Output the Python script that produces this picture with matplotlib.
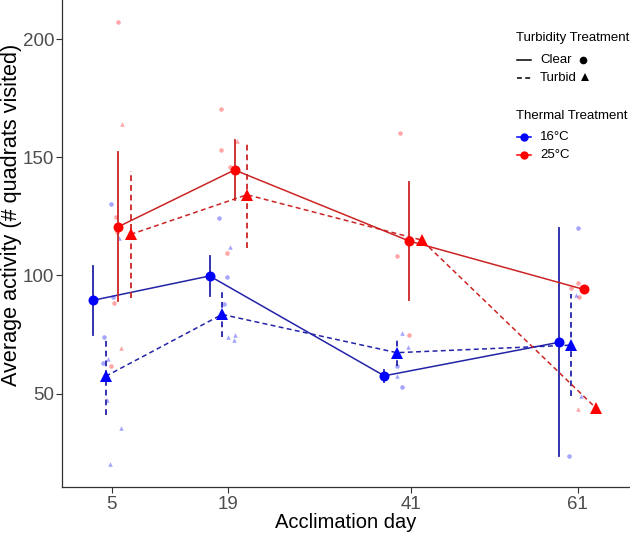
import matplotlib
matplotlib.use("Agg")
import matplotlib.pyplot as plt
from matplotlib.lines import Line2D
import numpy as np

plt.rcParams["font.family"] = ["Liberation Sans", "DejaVu Sans"]

# acclimation days (data) and tick labels
days = [5, 19, 40, 61]
tick_days = [5, 19, 41, 61]

# group means and error half-widths (nan = no bar)
mean_16_clear = [89.5, 99.8, 57.5, 71.7]
err_16_clear = [14.6, 8.5, 2.5, 48.3]
mean_16_turbid = [57.3, 83.5, 67.3, 70.5]
err_16_turbid = [16.2, 9.6, 5.6, 21.5]
mean_25_clear = [120.6, 144.7, 114.6, 94.1]
err_25_clear = [31.6, 12.7, 24.8, np.nan]
mean_25_turbid = [117.4, 134.2, 115.0, 43.7]
err_25_turbid = [27.0, 22.6, np.nan, np.nan]

# individual observations: day, horizontal jitter (days), value, temperature, turbidity
raw_day = [5] * 16 + [19] * 12 + [40] * 8 + [61] * 8
raw_jit = [0.76, 1.24, -0.16, 0.48, 0.56, 0.84, 0.16, 0.24, -0.92, 1.08, -1.12, -0.52, -0.12, -0.56, 1.12, -0.24,
           -0.91, 1.04, -0.83, 0.25, -1.15, 0.17, -0.11, -0.16, -0.52, -0.04, 0.85, 0.73,
           -0.35, -0.76, -0.11, 0.68, 0.56, -0.76, -0.71, -0.11,
           0.02, 0.06, -0.74, 0.22, -0.22, 0.46, 0.10, -1.02]
raw_val = [207.4, 164.2, 130.3, 124.9, 118.3, 115.9, 91.0, 88.2, 73.8, 69.3, 63.0, 64.5, 61.7, 47.2, 35.3, 20.0,
           170.7, 157.0, 153.0, 146.1, 124.4, 112.2, 109.4, 99.2, 88.0, 74.0, 75.0, 72.7,
           160.5, 108.3, 75.5, 74.8, 69.8, 61.6, 57.4, 52.6,
           120.3, 96.7, 94.6, 90.8, 91.7, 49.1, 43.4, 23.5]
raw_temp = ["25", "25", "16", "25", "25", "16", "16", "25", "16", "25", "16", "16", "25", "16", "16", "16",
            "25", "25", "25", "25", "16", "16", "25", "16", "16", "16", "16", "16",
            "25", "25", "16", "25", "16", "16", "16", "16",
            "16", "25", "25", "25", "16", "16", "25", "16"]
raw_turb = ["Clear", "Turbid", "Clear", "Clear", "Clear", "Turbid", "Clear", "Clear", "Clear", "Turbid", "Clear",
            "Turbid", "Clear", "Turbid", "Turbid", "Turbid",
            "Clear", "Turbid", "Clear", "Clear", "Clear", "Turbid", "Clear", "Clear", "Clear", "Turbid", "Turbid",
            "Turbid",
            "Clear", "Clear", "Turbid", "Clear", "Turbid", "Clear", "Turbid", "Clear",
            "Clear", "Clear", "Clear", "Clear", "Turbid", "Turbid", "Turbid", "Clear"]

POINT_COL = {"16": "#0000FF", "25": "#FF0000"}
LINE_COL = {"16": "#2323A8", "25": "#CC2424"}
MARKER = {"Clear": "o", "Turbid": "^"}
DASH = (0, (3.2, 2.2))

groups = [
    ("16", "Clear", mean_16_clear, err_16_clear, -2.25),
    ("16", "Turbid", mean_16_turbid, err_16_turbid, -0.75),
    ("25", "Clear", mean_25_clear, err_25_clear, 0.75),
    ("25", "Turbid", mean_25_turbid, err_25_turbid, 2.25),
]

fig = plt.figure(figsize=(6.3, 5.33), dpi=100)
ax = fig.add_axes([62 / 630, 46 / 533, 1 - 62 / 630, 1 - 46 / 533])

# raw observations
for d, j, v, t, tb in zip(raw_day, raw_jit, raw_val, raw_temp, raw_turb):
    ax.plot(d + j, v, marker=MARKER[tb], color=POINT_COL[t], alpha=0.35, markersize=3.3,
            markeredgewidth=0, linestyle="none", zorder=1)

# means, connecting lines, error bars
for temp, turb, mean, err, off in groups:
    x = np.array(days) + off
    ls = "-" if turb == "Clear" else DASH
    ax.plot(x, mean, color=LINE_COL[temp], linestyle=ls, linewidth=1.1, zorder=2)
    for xi, m, e in zip(x, mean, err):
        if np.isnan(e):
            continue
        ax.plot([xi, xi], [m - e, m + e], color=LINE_COL[temp], linestyle=ls, linewidth=1.3, zorder=2)
    ms = 7.2 if turb == "Clear" else 8.0
    ax.plot(x, mean, marker=MARKER[turb], color=POINT_COL[temp], markersize=ms, markeredgewidth=0,
            linestyle="none", zorder=3)

ax.set_xlim(-1.0, 67.3)
ax.set_ylim(10.4, 216.7)
ax.set_xticks(tick_days)
ax.set_xticklabels([str(d) for d in tick_days])
ax.set_yticks([50, 100, 150, 200])
ax.tick_params(axis="both", labelsize=13.5, labelcolor="#4D4D4D", color="#333333", length=4, width=0.8)
ax.tick_params(axis="y", pad=1.5)
ax.tick_params(axis="x", pad=2.5)
ax.spines["top"].set_visible(False)
ax.spines["right"].set_visible(False)
for s in ("left", "bottom"):
    ax.spines[s].set_color("#333333")
    ax.spines[s].set_linewidth(0.9)
ax.set_xlabel("Acclimation day", fontsize=14.5, va="center")
ax.xaxis.set_label_coords(0.5, -36 / 487)
ax.set_ylabel("Average activity (# quadrats visited)", fontsize=15.6, va="center")
ax.yaxis.set_label_coords(-50 / 568, (487 - 215) / 487)


# legend drawn by hand in pixel-derived figure fractions
def fx(px):
    return px / 630


def fy(py):
    return 1 - py / 533


fs = 9.5
fig.text(fx(516), fy(38), "Turbidity Treatment", fontsize=fs, va="center", ha="left")
fig.add_artist(Line2D([fx(517), fx(531)], [fy(60), fy(60)], color="black", linewidth=1.1))
fig.text(fx(540), fy(60), "Clear", fontsize=fs, va="center", ha="left")
fig.add_artist(Line2D([fx(583)], [fy(60)], marker="o", color="black", markersize=5.5, markeredgewidth=0))
fig.add_artist(Line2D([fx(517), fx(531)], [fy(78), fy(78)], color="black", linewidth=1.1, linestyle=DASH))
fig.text(fx(540), fy(78), "Turbid", fontsize=fs, va="center", ha="left")
fig.add_artist(Line2D([fx(585)], [fy(77)], marker="^", color="black", markersize=6, markeredgewidth=0))

fig.text(fx(516), fy(116), "Thermal Treatment", fontsize=fs, va="center", ha="left")
for py, t, lab in [(137, "16", "16°C"), (155, "25", "25°C")]:
    fig.add_artist(Line2D([fx(517), fx(531)], [fy(py), fy(py)], color=POINT_COL[t], linewidth=1.1))
    fig.add_artist(Line2D([fx(524)], [fy(py)], marker="o", color=POINT_COL[t], markersize=6,
                          markeredgewidth=0))
    fig.text(fx(540), fy(py), lab, fontsize=fs, va="center", ha="left")

fig.savefig("out.png", dpi=100)
